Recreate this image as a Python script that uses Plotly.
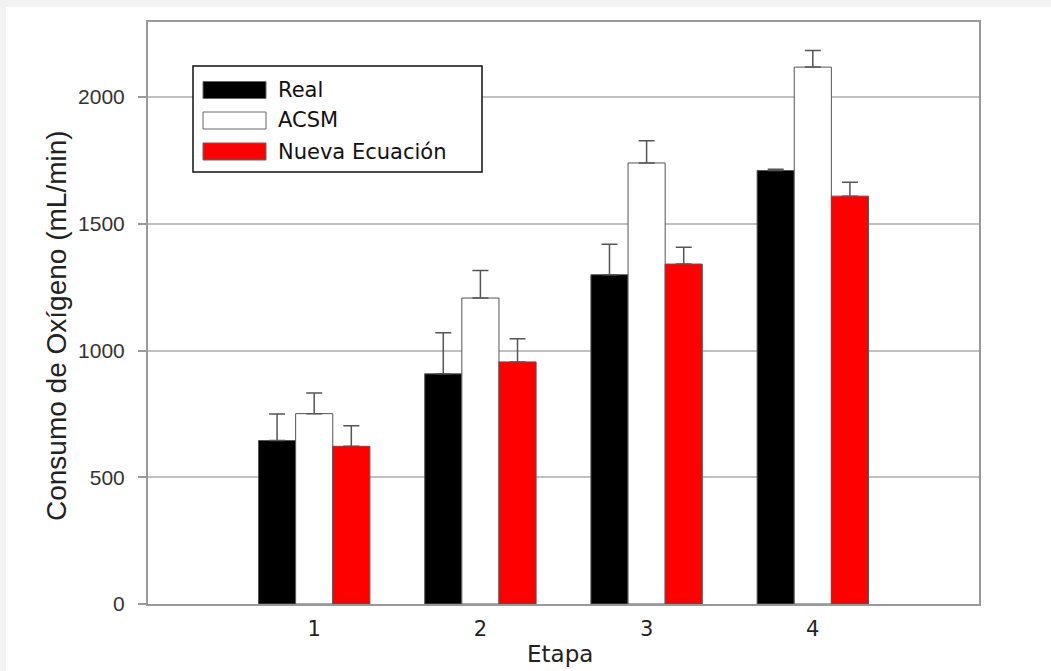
import plotly.graph_objects as go

stages = [1, 2, 3, 4]
stage_labels = ["1", "2", "3", "4"]

series_names = ["Real", "ACSM", "Nueva Ecuación"]
real_vals = [645, 908, 1299, 1710]
real_err = [105, 162, 120, 5]
acsm_vals = [751, 1207, 1740, 2118]
acsm_err = [81, 109, 88, 66]
nueva_vals = [622, 955, 1341, 1609]
nueva_err = [81, 91, 66, 55]

fills = ["#000000", "#ffffff", "#ff0000"]

W, H = 1051, 671
L, R, T, B = 148, 72, 22, 67
pw, ph = W - L - R, H - T - B

def px_x(x):
    return (x - L) / pw

def px_y(y):
    return (H - B - y) / ph

fig = go.Figure()
for name, vals, errs, col in zip(series_names, [real_vals, acsm_vals, nueva_vals],
                                 [real_err, acsm_err, nueva_err], fills):
    fig.add_trace(go.Bar(
        x=stages, y=vals, name=name,
        marker=dict(color=col, line=dict(color="#555555", width=1)),
        error_y=dict(type="data", array=errs, arrayminus=[0] * len(errs),
                     symmetric=False, color="#555555", thickness=1.5, width=8),
        showlegend=False,
    ))

shapes = []
# gray outer strips
shapes.append(dict(type="rect", xref="paper", yref="paper", x0=px_x(-5), x1=px_x(6),
                   y0=px_y(H + 5), y1=px_y(-5), fillcolor="#f2f2f2", line=dict(width=0), layer="below"))
shapes.append(dict(type="rect", xref="paper", yref="paper", x0=px_x(-5), x1=px_x(W + 5),
                   y0=px_y(7), y1=px_y(-5), fillcolor="#f2f2f2", line=dict(width=0), layer="below"))
# legend box
shapes.append(dict(type="rect", xref="paper", yref="paper", x0=px_x(193), x1=px_x(482),
                   y0=px_y(172), y1=px_y(66), fillcolor="#ffffff",
                   line=dict(color="#111111", width=1.5), layer="above"))
annotations = []
sw_y = [90, 120.5, 151.5]
for name, col, cy in zip(series_names, fills, sw_y):
    shapes.append(dict(type="rect", xref="paper", yref="paper", x0=px_x(203), x1=px_x(266),
                       y0=px_y(cy + 8.5), y1=px_y(cy - 8.5), fillcolor=col,
                       line=dict(color="#666666", width=1), layer="above"))
    annotations.append(dict(xref="paper", yref="paper", x=px_x(276), y=px_y(cy),
                            xanchor="left", yanchor="middle", text=name, showarrow=False,
                            font=dict(family="DejaVu Sans", size=21, color="#111111")))

# axis titles placed as annotations
annotations.append(dict(xref="paper", yref="paper", x=px_x(57), y=px_y(326),
                        xanchor="center", yanchor="middle", textangle=-90,
                        text="Consumo de Oxígeno (mL/min)", showarrow=False,
                        font=dict(family="Liberation Sans", size=28, color="#222222")))
annotations.append(dict(xref="paper", yref="paper", x=px_x(560), y=px_y(654),
                        xanchor="center", yanchor="middle",
                        text="Etapa", showarrow=False,
                        font=dict(family="DejaVu Sans", size=23, color="#222222")))

fig.update_layout(
    width=W, height=H,
    margin=dict(l=L, r=R, t=T, b=B, autoexpand=False),
    paper_bgcolor="#ffffff", plot_bgcolor="#ffffff",
    barmode="group", bargap=0.33, bargroupgap=0,
    shapes=shapes, annotations=annotations,
    xaxis=dict(range=[0, 5], tickvals=stages, ticktext=stage_labels,
               showgrid=False, zeroline=False, showline=True, mirror=True,
               linecolor="#999999", linewidth=2, ticks="", automargin=False,
               ticklabelstandoff=5,
               tickfont=dict(family="DejaVu Sans", size=21, color="#222222")),
    yaxis=dict(range=[0, 2296], tickvals=[0, 500, 1000, 1500, 2000],
               ticktext=["0", "500", "1000", "1500", "2000"],
               showgrid=True, gridcolor="#c0c0c0", gridwidth=1.5, zeroline=False,
               showline=True, mirror=True, linecolor="#999999", linewidth=2,
               ticks="outside", ticklen=8, tickcolor="#999999", tickwidth=1.5,
               ticklabelstandoff=9, automargin=False,
               tickfont=dict(family="Liberation Sans", size=21, color="#333333")),
)

fig.write_html("out.html", config={"displayModeBar": False},
               post_script="document.body.style.margin='0';document.body.style.overflow='hidden';")
